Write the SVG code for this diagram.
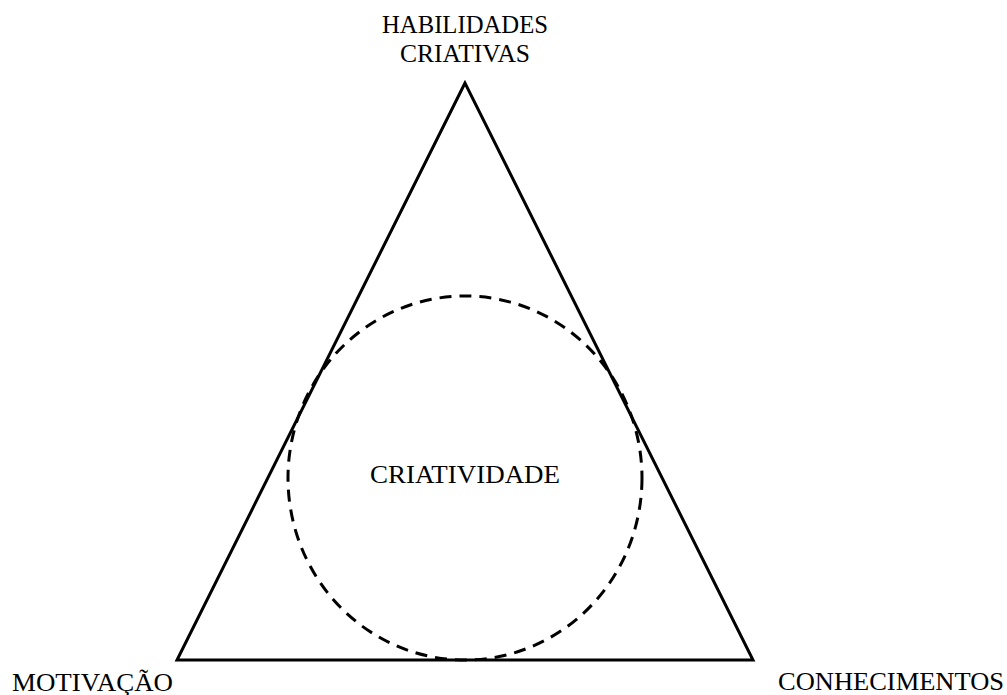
<svg xmlns="http://www.w3.org/2000/svg" width="1007" height="695" viewBox="0 0 1007 695">
<style>
text{font-family:"Liberation Serif","Times New Roman",serif;font-size:26px;fill:#000}
.tri{fill:none;stroke:#000;stroke-width:3;stroke-linejoin:miter}
.circ{fill:none;stroke:#000;stroke-width:3;stroke-dasharray:12 8}
</style>
<rect width="1007" height="695" fill="#fff"/>
<g id="connectors">
<polygon class="tri" points="465,83 177,660 753,660"/>
</g>
<g id="creativity">
<ellipse class="circ" cx="465" cy="478" rx="177" ry="182"/>
<text x="465" y="483" text-anchor="middle" textLength="190" lengthAdjust="spacingAndGlyphs">CRIATIVIDADE</text>
</g>
<g id="habilidades">
<text x="465" y="33" text-anchor="middle" textLength="166" lengthAdjust="spacingAndGlyphs">HABILIDADES</text>
<text x="465" y="62" text-anchor="middle" textLength="130" lengthAdjust="spacingAndGlyphs">CRIATIVAS</text>
</g>
<g id="motivacao">
<text x="12" y="691" textLength="161" lengthAdjust="spacingAndGlyphs">MOTIVAÇÃO</text>
</g>
<g id="conhecimentos">
<text x="778" y="690" textLength="226" lengthAdjust="spacingAndGlyphs">CONHECIMENTOS</text>
</g>
</svg>
